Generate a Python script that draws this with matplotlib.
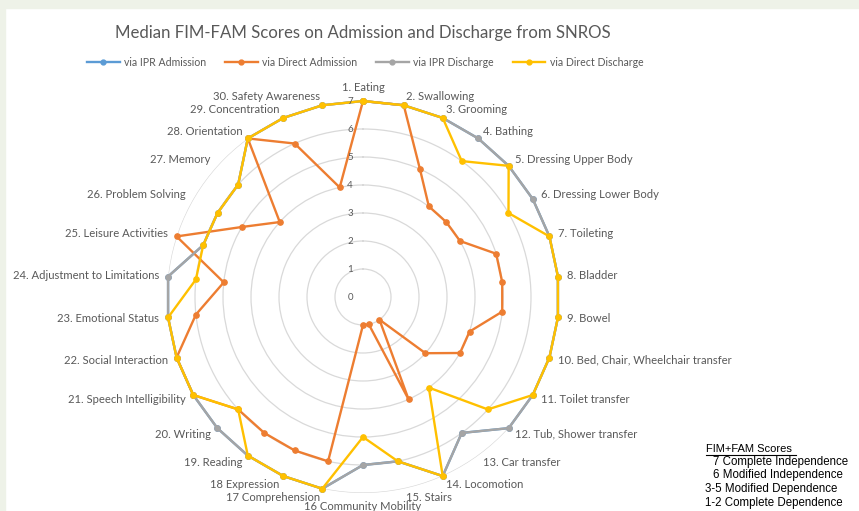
import numpy as np
import matplotlib
matplotlib.use("Agg")
import matplotlib.pyplot as plt
from matplotlib.patches import Rectangle
from matplotlib.transforms import ScaledTranslation

# Datos
categories = [
    "1. Eating", "2. Swallowing", "3. Grooming", "4. Bathing",
    "5. Dressing Upper Body", "6. Dressing Lower Body", "7. Toileting",
    "8. Bladder", "9. Bowel", "10. Bed, Chair, Wheelchair transfer",
    "11. Toilet transfer", "12. Tub, Shower transfer", "13. Car transfer",
    "14. Locomotion", "15. Stairs", "16 Community Mobility",
    "17 Comprehension", "18 Expression", "19. Reading", "20. Writing",
    "21. Speech Intelligibility", "22. Social Interaction",
    "23. Emotional Status", "24. Adjustment to Limitations",
    "25. Leisure Activities", "26. Problem Solving", "27. Memory",
    "28. Orientation", "29. Concentration", "30. Safety Awareness",
]
ipr_admission = [7, 7, 7, 7, 7, 7, 7, 7, 7, 7, 7, 7, 6, 7, 6,
                 6, 7, 7, 7, 7, 7, 7, 7, 7, 6, 6, 6, 7, 7, 7]
direct_admission = [7, 7, 5, 4, 4, 4, 5, 5, 5, 4, 4, 3, 1, 4, 1,
                    1, 6, 6, 6, 6, 7, 7, 6, 5, 7, 5, 4, 7, 6, 4]
ipr_discharge = [7, 7, 7, 7, 7, 7, 7, 7, 7, 7, 7, 7, 6, 7, 6,
                 6, 7, 7, 7, 7, 7, 7, 7, 7, 6, 6, 6, 7, 7, 7]
direct_discharge = [7, 7, 7, 6, 7, 6, 7, 7, 7, 7, 7, 6, 4, 7, 6,
                    5, 7, 7, 7, 6, 7, 7, 7, 6, 6, 6, 6, 7, 7, 7]
series_names = ["via IPR Admission", "via Direct Admission",
                "via IPR Discharge", "via Direct Discharge"]
colors = ["#5B9BD5", "#ED7D31", "#A5A5A5", "#FFC000"]
score_notes = ["7 Complete Independence", "6 Modified Independence",
               "3-5 Modified Dependence", "1-2 Complete Dependence"]

TXT = "#595959"
W, H = 859, 511
fig = plt.figure(figsize=(W / 100, H / 100), dpi=100)
fig.patch.set_facecolor("white")

# fondo de página (franja verde clara arriba e izquierda)
fig.patches.append(Rectangle((0, 1 - 8 / H), 1, 8 / H, transform=fig.transFigure,
                             color="#eef2e8", zorder=0))
fig.patches.append(Rectangle((0, 0), 5 / W, 1, transform=fig.transFigure,
                             color="#eef2e8", zorder=0))

cx, cy, R = 363, 297, 196
ax = fig.add_axes([(cx - R) / W, (H - cy - R) / H, 2 * R / W, 2 * R / H],
                  projection="polar")
ax.set_theta_zero_location("N")
ax.set_theta_direction(-1)
ax.set_ylim(0, 7)
ax.patch.set_alpha(0)
ax.spines["polar"].set_visible(False)
ax.set_xticks([])
ax.set_yticks(range(1, 8))
ax.set_yticklabels([])
ax.yaxis.grid(True, color="#d9d9d9", linewidth=0.9)
ax.xaxis.grid(False)

n = len(categories)
theta = np.arange(n) * 2 * np.pi / n
theta_c = np.append(theta, theta[0])

for vals, col in zip([ipr_admission, direct_admission, ipr_discharge, direct_discharge], colors):
    v = np.append(vals, vals[0])
    ax.plot(theta_c, v, color=col, linewidth=1.7, marker="o", markersize=3.8, clip_on=False)

# etiquetas de la escala 0-7
for v in range(0, 8):
    tr = ax.transData + ScaledTranslation(-0.10, 0, fig.dpi_scale_trans)
    ax.text(0, v, str(v), transform=tr, ha="right", va="center",
            fontsize=7, color=TXT, family="Lato")

# etiquetas de categorías
for t, lab in zip(theta, categories):
    s, c = np.sin(t), np.cos(t)
    if abs(s) < 0.05:
        ha = "center"
        d = 14
    else:
        ha = "left" if s > 0 else "right"
        d = 9
    tr = ax.transData + ScaledTranslation(d * s / 100, d * c / 100, fig.dpi_scale_trans)
    ax.text(t, 7, lab, transform=tr, ha=ha, va="center",
            fontsize=8.1, color=TXT, family="Lato")

fig.text(363 / W, 1 - 33 / H, "Median FIM-FAM Scores on Admission and Discharge from SNROS",
         ha="center", va="center", fontsize=12.1, color=TXT, family="Lato")

handles = [plt.Line2D([], [], color=c, linewidth=1.7, marker="o", markersize=3.5)
           for c in colors]
fig.legend(handles, series_names, loc="center", bbox_to_anchor=(365 / W, 1 - 62 / H),
           ncol=4, frameon=False, handlelength=3.1, handletextpad=0.4,
           columnspacing=1.8, prop={"family": "Lato", "size": 7.6})
for t in fig.legends[0].get_texts():
    t.set_color(TXT)

fig.text(706 / W, 1 - 449 / H, "FIM+FAM Scores", ha="left", va="center",
         fontsize=8, color="black", family="Liberation Sans")
fig.add_artist(plt.Line2D([706 / W, 796 / W], [1 - 455 / H, 1 - 455 / H],
                          color="black", linewidth=0.8))
note_x = [713, 713, 705, 705]
note_y = [462, 475, 489, 503]
for txt, x, y in zip(score_notes, note_x, note_y):
    fig.text(x / W, 1 - y / H, txt, ha="left", va="center",
             fontsize=8.3, color="black", family="Liberation Sans")

fig.savefig("out.png", dpi=100)
